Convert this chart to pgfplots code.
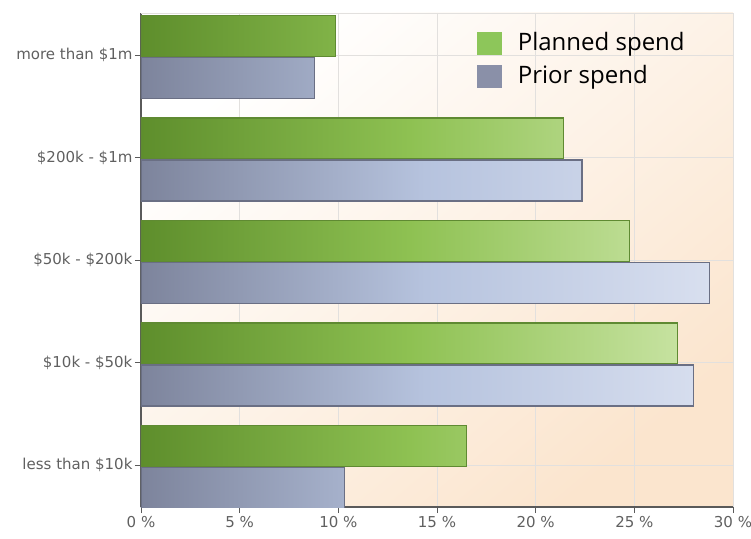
\documentclass[border=0pt]{standalone}
\usepackage{pgfplots}
\pgfplotsset{compat=1.18}
\usepackage{fontspec}
\setmainfont{DejaVu Sans}
\newfontfamily\legfont{Open Sans}
\definecolor{gDark}{HTML}{5E8E2C}
\definecolor{gMid}{HTML}{8EC152}
\definecolor{gLight}{HTML}{C6E2A0}
\definecolor{gBorder}{HTML}{5F8A32}
\definecolor{pDark}{HTML}{7D849C}
\definecolor{pMid}{HTML}{B6C3DE}
\definecolor{pLight}{HTML}{D8DFEF}
\definecolor{pBorder}{HTML}{6A6F84}
\definecolor{legG}{HTML}{8DC65A}
\definecolor{legP}{HTML}{8A90A8}
\definecolor{bgC}{HTML}{FBE5CE}
\definecolor{gridC}{HTML}{E2E0DE}
\definecolor{axisC}{HTML}{5A5A5A}
\definecolor{labC}{HTML}{606060}
\begin{document}
\begin{tikzpicture}
\begin{axis}[
  scale only axis, width=592pt, height=494pt,
  xbar, bar width=41pt,
  xmin=0, xmax=30, ymin=-0.41, ymax=4.41,
  xtick={0,5,...,30},
  xticklabels={0 \%,5 \%,10 \%,15 \%,20 \%,25 \%,30 \%},
  ytick={0,1,2,3,4},
  yticklabels={less than \$10k,\$10k - \$50k,\$50k - \$200k,\$200k - \$1m,more than \$1m},
  axis x line*=bottom, axis y line*=left,
  axis line style={draw=axisC, line width=1.2pt, -},
  grid=major, grid style={draw=gridC, line width=0.8pt},
  tick align=outside, major tick length=6pt,
  tick style={draw=axisC, line width=0.8pt},
  ticklabel style={font=\fontsize{15}{17}\selectfont, text=labC},
  yticklabel style={xshift=1pt},
  axis background/.style={shade, top color=white, bottom color=bgC, shading angle=40},
  legend style={at={(0.567,0.966)}, anchor=north west, draw=none, fill=none,
    font=\legfont\fontsize{24}{27}\selectfont, inner sep=0pt, row sep=8.5pt,
    /tikz/every odd column/.style={column sep=14pt}},
  legend cell align=left,
  legend image code/.code={\fill[#1, draw=none] (0pt,-13pt) rectangle (25pt,10pt);},
]
\draw[gridC, line width=0.8pt] (rel axis cs:0,1) -- (rel axis cs:1,1);
\addplot[forget plot, draw=gBorder, line width=1.2pt, left color=gDark, right color=gLight, middle color=gMid, bar shift=19pt]
  coordinates {(16.5,0) (27.2,1) (24.75,2) (21.4,3) (9.85,4)};
\addplot[forget plot, draw=pBorder, line width=1.2pt, left color=pDark, right color=pLight, middle color=pMid, bar shift=-23pt]
  coordinates {(10.3,0) (28.0,1) (28.8,2) (22.35,3) (8.8,4)};
\addlegendimage{fill=legG}
\addlegendentry{Planned spend}
\addlegendimage{fill=legP}
\addlegendentry{Prior spend}
\coordinate (bl) at (rel axis cs:0,0);
\coordinate (tr) at (rel axis cs:1,1);
\end{axis}
\pgfresetboundingbox
\path ([shift={(-141pt,-31pt)}]bl) rectangle ([shift={(18pt,13pt)}]tr);
\end{tikzpicture}
\end{document}
